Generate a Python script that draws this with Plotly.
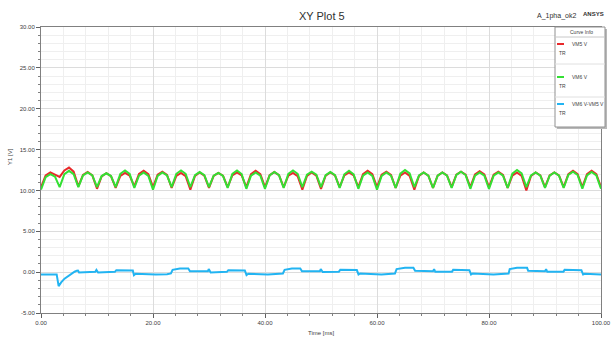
import plotly.graph_objects as go

# ---------------- data ----------------
t_vm = [0, 0.83, 1.67, 2.5, 3.33, 4.17, 5, 5.83, 6.67, 7.5, 8.33, 9.17,
        10, 10.83, 11.67, 12.5, 13.33, 14.17, 15, 15.83, 16.67, 17.5, 18.33, 19.17,
        20, 20.83, 21.67, 22.5, 23.33, 24.17, 25, 25.83, 26.67, 27.5, 28.33, 29.17,
        30, 30.83, 31.67, 32.5, 33.33, 34.17, 35, 35.83, 36.67, 37.5, 38.33, 39.17,
        40, 40.83, 41.67, 42.5, 43.33, 44.17, 45, 45.83, 46.67, 47.5, 48.33, 49.17,
        50, 50.83, 51.67, 52.5, 53.33, 54.17, 55, 55.83, 56.67, 57.5, 58.33, 59.17,
        60, 60.83, 61.67, 62.5, 63.33, 64.17, 65, 65.83, 66.67, 67.5, 68.33, 69.17,
        70, 70.83, 71.67, 72.5, 73.33, 74.17, 75, 75.83, 76.67, 77.5, 78.33, 79.17,
        80, 80.83, 81.67, 82.5, 83.33, 84.17, 85, 85.83, 86.67, 87.5, 88.33, 89.17,
        90, 90.83, 91.67, 92.5, 93.33, 94.17, 95, 95.83, 96.67, 97.5, 98.33, 99.17,
        100]

vm5 = [10.4, 11.84, 12.2, 11.9, 11.65, 12.45, 12.8, 12.3, 10.5, 11.9, 12.25, 11.84,
       10.2, 11.72, 12.1, 11.74, 10.3, 11.78, 12.15, 11.82, 10.5, 12.02, 12.4, 12.0,
       10.4, 11.92, 12.3, 11.9, 10.3, 11.78, 12.15, 11.74, 10.1, 11.78, 12.2, 11.82,
       10.3, 11.78, 12.15, 11.8, 10.4, 11.84, 12.2, 11.84, 10.4, 12.0, 12.4, 12.0,
       10.4, 11.88, 12.25, 11.88, 10.4, 11.8, 12.15, 11.74, 10.1, 11.78, 12.2, 11.8,
       10.2, 11.8, 12.2, 11.84, 10.4, 11.84, 12.2, 11.84, 10.4, 12.0, 12.4, 12.0,
       10.4, 11.92, 12.3, 11.9, 10.3, 11.82, 12.2, 11.78, 10.1, 11.78, 12.2, 11.82,
       10.3, 11.82, 12.2, 11.84, 10.4, 11.92, 12.3, 11.92, 10.4, 11.96, 12.35, 11.96,
       10.4, 11.92, 12.3, 11.9, 10.3, 11.82, 12.2, 11.76, 10.0, 11.76, 12.2, 11.84,
       10.4, 11.84, 12.2, 11.84, 10.4, 12.0, 12.4, 12.0, 10.4, 12.0, 12.4, 12.0,
       10.4]

vm6 = [10.1, 11.62, 12.0, 11.68, 10.4, 12.0, 12.4, 12.0, 10.4, 11.84, 12.2, 11.84,
       10.4, 11.76, 12.1, 11.76, 10.4, 12.04, 12.45, 12.02, 10.3, 11.82, 12.2, 11.78,
       10.1, 11.78, 12.2, 11.84, 10.4, 12.04, 12.45, 12.04, 10.4, 11.88, 12.25, 11.88,
       10.4, 11.8, 12.15, 11.78, 10.3, 12.02, 12.45, 12.0, 10.2, 11.8, 12.2, 11.8,
       10.2, 11.84, 12.25, 11.86, 10.3, 12.02, 12.45, 12.04, 10.4, 11.92, 12.3, 11.92,
       10.4, 11.88, 12.25, 11.86, 10.3, 11.98, 12.4, 11.96, 10.2, 11.8, 12.2, 11.78,
       10.1, 11.78, 12.2, 11.82, 10.3, 12.06, 12.5, 12.08, 10.4, 11.84, 12.2, 11.82,
       10.3, 11.82, 12.2, 11.82, 10.3, 11.9, 12.3, 11.88, 10.2, 11.8, 12.2, 11.8,
       10.2, 11.8, 12.2, 11.82, 10.3, 12.06, 12.5, 12.08, 10.4, 11.84, 12.2, 11.82,
       10.3, 11.82, 12.2, 11.82, 10.3, 11.9, 12.3, 11.88, 10.2, 11.84, 12.25, 11.84,
       10.2]

t_diff = [0, 2.8, 3.15, 3.6, 4.2, 4.8, 5.4, 6.0, 6.4, 6.6, 6.8, 8.0, 9.7, 9.9, 10.2,
          13.2, 13.45, 16.4, 16.6, 16.9, 20.5, 22.5, 23.2, 23.5, 24.8, 26.3, 26.6,
          29.8, 29.95, 30.3, 33.2, 33.45, 36.4, 36.7, 37.0, 40.5, 42.8, 43.2, 43.5,
          44.8, 46.3, 46.6, 49.8, 49.95, 50.3, 53.2, 53.45, 56.4, 56.7, 57.0, 60.8,
          63.2, 63.5, 65.0, 66.5, 66.8, 70.0, 70.2, 70.4, 73.4, 73.6, 76.5, 76.8,
          77.1, 80.8, 83.5, 83.7, 85.0, 86.8, 87.0, 90.0, 90.2, 90.4, 93.3, 93.5,
          96.5, 96.8, 97.1, 100]
vdiff = [-0.28, -0.28, -1.72, -1.25, -0.8, -0.5, -0.2, 0.05, 0.18, 0.2, -0.05, -0.02,
         0.04, 0.28, -0.04, 0.04, 0.24, 0.2, -0.37, -0.2, -0.3, -0.25, -0.16, 0.28,
         0.45, 0.45, 0.12, 0.1, 0.37, -0.04, 0.04, 0.24, 0.2, -0.37, -0.2, -0.3,
         -0.25, -0.16, 0.28, 0.45, 0.45, 0.12, 0.1, 0.37, 0.02, 0.06, 0.3, 0.26,
         -0.28, -0.16, -0.28, -0.18, 0.37, 0.53, 0.53, 0.16, 0.12, 0.37, 0.04, 0.06,
         0.28, 0.24, -0.28, -0.16, -0.28, -0.18, 0.37, 0.53, 0.53, 0.16, 0.12, 0.37,
         0.04, 0.06, 0.28, 0.24, -0.28, -0.2, -0.28]

x_ticks = [0, 20, 40, 60, 80, 100]
x_tick_labels = ["0.00", "20.00", "40.00", "60.00", "80.00", "100.00"]
y_ticks = [-5, 0, 5, 10, 15, 20, 25, 30]
y_tick_labels = ["-5.00", "0.00", "5.00", "10.00", "15.00", "20.00", "25.00", "30.00"]

legend_names = ["VM5 V", "VM6 V", "VM6 V-VM5 V"]
colors = ["#e8292b", "#33e033", "#22b4f2"]

# ---------------- layout geometry ----------------
W, H = 614, 342
L, R, T, B = 41, 601, 27, 313
def px(x):
    return (x - L) / (R - L)
def py(y):
    return (B - y) / (B - T)

FONT = "Liberation Sans, Arial, sans-serif"

fig = go.Figure()
fig.add_trace(go.Scatter(x=t_vm, y=vm5, mode="lines", name=legend_names[0],
                         line=dict(color=colors[0], width=2)))
fig.add_trace(go.Scatter(x=t_vm, y=vm6, mode="lines", name=legend_names[1],
                         line=dict(color=colors[1], width=2)))
fig.add_trace(go.Scatter(x=t_diff, y=vdiff, mode="lines", name=legend_names[2],
                         line=dict(color=colors[2], width=2)))

axis_common = dict(showline=True, linecolor="#808080", linewidth=1, mirror=True,
                   ticks="outside", ticklen=4, tickcolor="#606060", automargin=False,
                   gridcolor="#dcdcdc", gridwidth=1, zeroline=False,
                   tickfont=dict(family=FONT, size=6, color="#404040"))

fig.update_xaxes(range=[0, 100], tickvals=x_ticks, ticktext=x_tick_labels,
                 minor=dict(dtick=4, tick0=0, ticks="outside", ticklen=2,
                            tickcolor="#808080", showgrid=True,
                            gridcolor="#efefef", gridwidth=1),
                 **axis_common)
fig.update_yaxes(range=[-5, 30], tickvals=y_ticks, ticktext=y_tick_labels,
                 minor=dict(dtick=1, tick0=0, ticks="outside", ticklen=2,
                            tickcolor="#808080", showgrid=True,
                            gridcolor="#efefef", gridwidth=1),
                 **axis_common)

def note(text, x, y, size, xanchor="center", angle=0, color="#404040"):
    return dict(text=text, x=px(x), y=py(y), xref="paper", yref="paper",
                xanchor=xanchor, yanchor="middle", textangle=angle,
                showarrow=False, font=dict(family=FONT, size=size, color=color))

annotations = [
    note("XY Plot 5", 322, 16, 11, color="#303030"),
    note("A_1pha_ok2", 578, 16, 7, xanchor="right", color="#303030"),
    note("<b>ANSYS</b>", 581, 14, 6, xanchor="left", color="#303030"),
    note("Time [ms]", 321, 333, 6),
    note("Y1 [V]", 10, 157, 6, angle=-90),
    note("Curve Info", 581, 32, 5),
]

shapes = [
    # legend shadow and box
    dict(type="rect", xref="paper", yref="paper", x0=px(557), x1=px(607),
         y0=py(29), y1=py(129), fillcolor="#b8b8b8", line=dict(width=0), layer="above"),
    dict(type="rect", xref="paper", yref="paper", x0=px(555), x1=px(605),
         y0=py(27), y1=py(127), fillcolor="white", line=dict(color="#909090", width=1),
         layer="above"),
    dict(type="line", xref="paper", yref="paper", x0=px(555), x1=px(605),
         y0=py(37), y1=py(37), line=dict(color="#c8c8c8", width=1), layer="above"),
    dict(type="line", xref="paper", yref="paper", x0=px(555), x1=px(605),
         y0=py(64), y1=py(64), line=dict(color="#e0e0e0", width=1), layer="above"),
    dict(type="line", xref="paper", yref="paper", x0=px(555), x1=px(605),
         y0=py(97), y1=py(97), line=dict(color="#e0e0e0", width=1), layer="above"),
]

entry_y = [44, 77, 104]
for name, col, yy in zip(legend_names, colors, entry_y):
    shapes.append(dict(type="line", xref="paper", yref="paper", x0=px(557), x1=px(564),
                       y0=py(yy), y1=py(yy), line=dict(color=col, width=2), layer="above"))
    annotations.append(note(name, 570, yy, 5, xanchor="left"))
    annotations.append(note("TR", 557, yy + 9, 5, xanchor="left"))

fig.update_layout(width=W, height=H, margin=dict(l=L, r=W - R, t=T, b=H - B),
                  paper_bgcolor="white", plot_bgcolor="white", showlegend=False,
                  annotations=annotations, shapes=shapes)

fig.write_html("out.html")
